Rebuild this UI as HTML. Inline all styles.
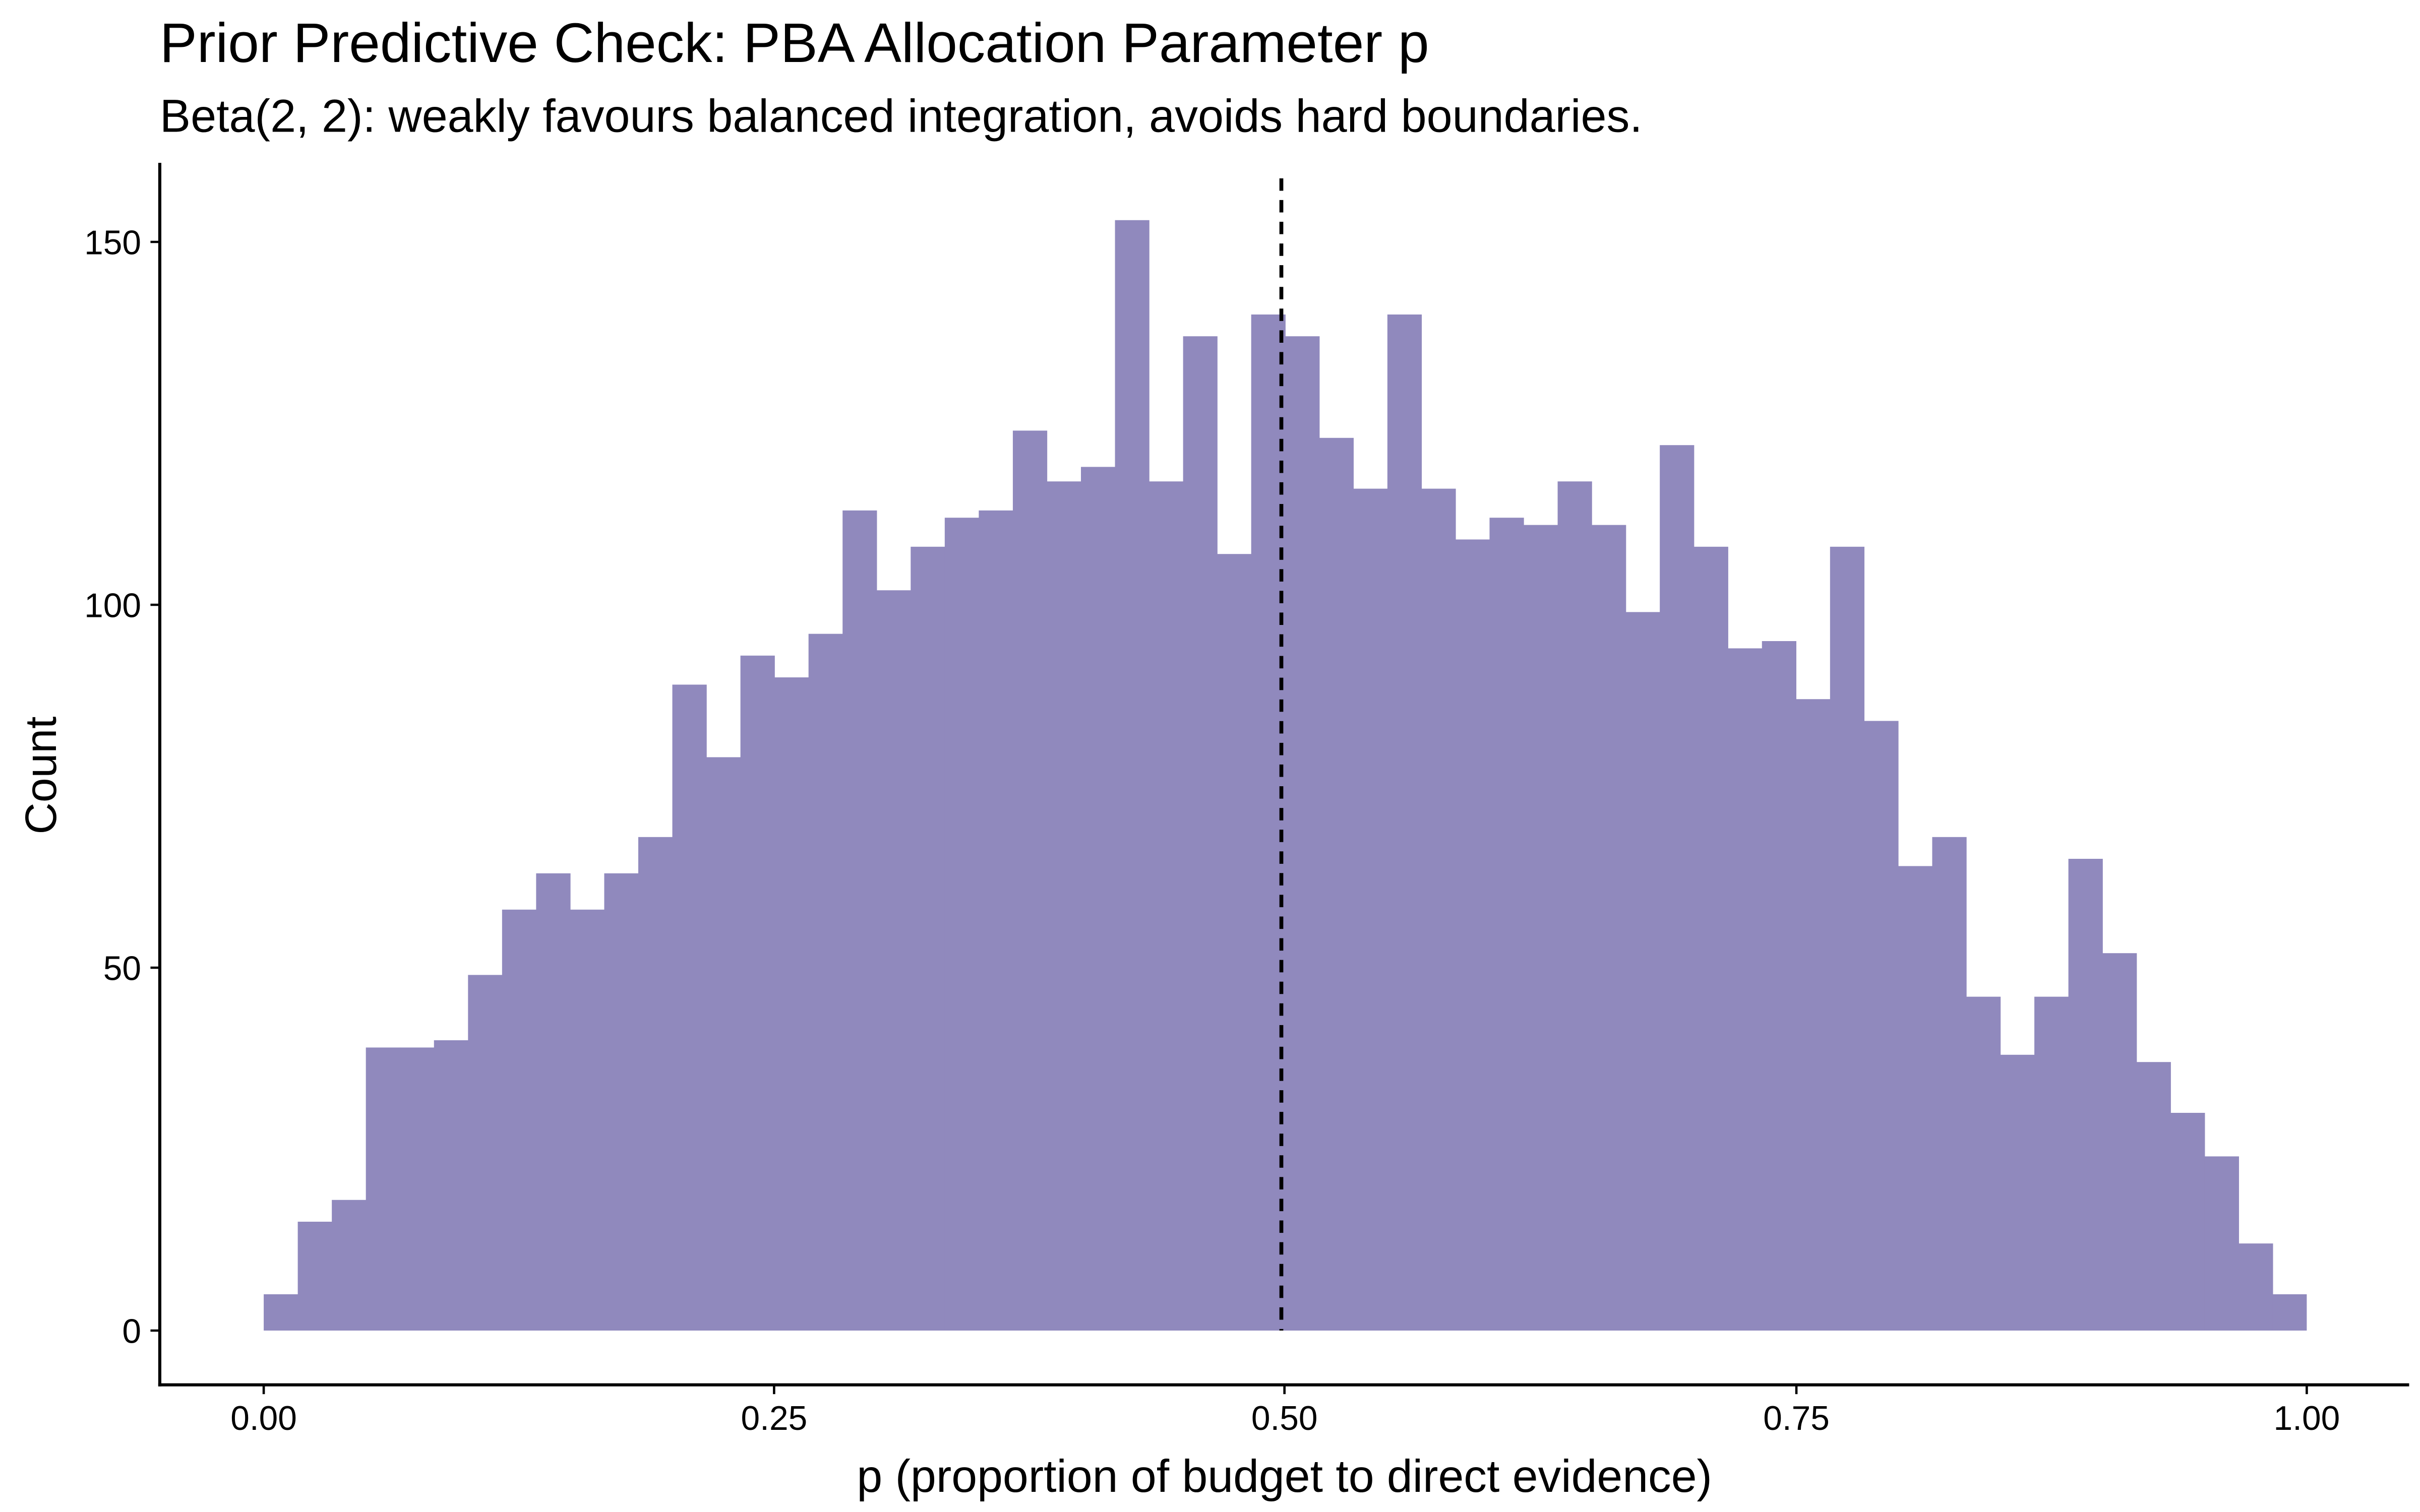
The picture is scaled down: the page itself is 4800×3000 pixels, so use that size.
<!DOCTYPE html>
<html><head><meta charset="utf-8"><style>
html,body{margin:0;padding:0;background:#fff;}
svg{display:block;}
text{font-family:"Liberation Sans",Arial,sans-serif;fill:#000;}
</style></head><body>
<svg width="4800" height="3000" viewBox="0 0 1560 975" xmlns="http://www.w3.org/2000/svg">
<rect width="1560" height="975" fill="#fff"/>
<text x="103" y="40" font-size="36">Prior Predictive Check: PBA Allocation Parameter p</text>
<text x="103" y="85" font-size="29.8">Beta(2, 2): weakly favours balanced integration, avoids hard boundaries.</text>
<g transform="translate(170,858) scale(21.95,-4.68)" fill="#9089bd">
<rect x="0" y="0" width="1.01" height="5"/>
<rect x="1" y="0" width="1.01" height="15"/>
<rect x="2" y="0" width="1.01" height="18"/>
<rect x="3" y="0" width="1.01" height="39"/>
<rect x="4" y="0" width="1.01" height="39"/>
<rect x="5" y="0" width="1.01" height="40"/>
<rect x="6" y="0" width="1.01" height="49"/>
<rect x="7" y="0" width="1.01" height="58"/>
<rect x="8" y="0" width="1.01" height="63"/>
<rect x="9" y="0" width="1.01" height="58"/>
<rect x="10" y="0" width="1.01" height="63"/>
<rect x="11" y="0" width="1.01" height="68"/>
<rect x="12" y="0" width="1.01" height="89"/>
<rect x="13" y="0" width="1.01" height="79"/>
<rect x="14" y="0" width="1.01" height="93"/>
<rect x="15" y="0" width="1.01" height="90"/>
<rect x="16" y="0" width="1.01" height="96"/>
<rect x="17" y="0" width="1.01" height="113"/>
<rect x="18" y="0" width="1.01" height="102"/>
<rect x="19" y="0" width="1.01" height="108"/>
<rect x="20" y="0" width="1.01" height="112"/>
<rect x="21" y="0" width="1.01" height="113"/>
<rect x="22" y="0" width="1.01" height="124"/>
<rect x="23" y="0" width="1.01" height="117"/>
<rect x="24" y="0" width="1.01" height="119"/>
<rect x="25" y="0" width="1.01" height="153"/>
<rect x="26" y="0" width="1.01" height="117"/>
<rect x="27" y="0" width="1.01" height="137"/>
<rect x="28" y="0" width="1.01" height="107"/>
<rect x="29" y="0" width="1.01" height="140"/>
<rect x="30" y="0" width="1.01" height="137"/>
<rect x="31" y="0" width="1.01" height="123"/>
<rect x="32" y="0" width="1.01" height="116"/>
<rect x="33" y="0" width="1.01" height="140"/>
<rect x="34" y="0" width="1.01" height="116"/>
<rect x="35" y="0" width="1.01" height="109"/>
<rect x="36" y="0" width="1.01" height="112"/>
<rect x="37" y="0" width="1.01" height="111"/>
<rect x="38" y="0" width="1.01" height="117"/>
<rect x="39" y="0" width="1.01" height="111"/>
<rect x="40" y="0" width="1.01" height="99"/>
<rect x="41" y="0" width="1.01" height="122"/>
<rect x="42" y="0" width="1.01" height="108"/>
<rect x="43" y="0" width="1.01" height="94"/>
<rect x="44" y="0" width="1.01" height="95"/>
<rect x="45" y="0" width="1.01" height="87"/>
<rect x="46" y="0" width="1.01" height="108"/>
<rect x="47" y="0" width="1.01" height="84"/>
<rect x="48" y="0" width="1.01" height="64"/>
<rect x="49" y="0" width="1.01" height="68"/>
<rect x="50" y="0" width="1.01" height="46"/>
<rect x="51" y="0" width="1.01" height="38"/>
<rect x="52" y="0" width="1.01" height="46"/>
<rect x="53" y="0" width="1.01" height="65"/>
<rect x="54" y="0" width="1.01" height="52"/>
<rect x="55" y="0" width="1.01" height="37"/>
<rect x="56" y="0" width="1.01" height="30"/>
<rect x="57" y="0" width="1.01" height="24"/>
<rect x="58" y="0" width="1.01" height="12"/>
<rect x="59" y="0" width="1" height="5"/>
</g>
<line x1="826" y1="115" x2="826" y2="858" stroke="#000" stroke-width="2.5" stroke-dasharray="8,6"/>
<line x1="103" y1="105" x2="103" y2="894" stroke="#000" stroke-width="2"/>
<line x1="102" y1="893" x2="1553" y2="893" stroke="#000" stroke-width="2"/>
<g stroke="#000" stroke-width="1.5">
<line x1="97" y1="858" x2="103" y2="858"/>
<line x1="97" y1="624" x2="103" y2="624"/>
<line x1="97" y1="390" x2="103" y2="390"/>
<line x1="97" y1="156" x2="103" y2="156"/>
<line x1="170" y1="893" x2="170" y2="899"/>
<line x1="499" y1="893" x2="499" y2="899"/>
<line x1="828" y1="893" x2="828" y2="899"/>
<line x1="1158" y1="893" x2="1158" y2="899"/>
<line x1="1487" y1="893" x2="1487" y2="899"/>
</g>
<g font-size="22" fill="#333" text-anchor="end">
<text x="91" y="866">0</text>
<text x="91" y="632">50</text>
<text x="91" y="398">100</text>
<text x="91" y="164">150</text>
</g>
<g font-size="22" fill="#333" text-anchor="middle">
<text x="170" y="922">0.00</text>
<text x="499" y="922">0.25</text>
<text x="828" y="922">0.50</text>
<text x="1158" y="922">0.75</text>
<text x="1487" y="922">1.00</text>
</g>
<text x="828" y="962" font-size="29.7" text-anchor="middle">p (proportion of budget to direct evidence)</text>
<text transform="translate(36,500) rotate(-90)" font-size="28.5" text-anchor="middle">Count</text>
</svg>
</body></html>
